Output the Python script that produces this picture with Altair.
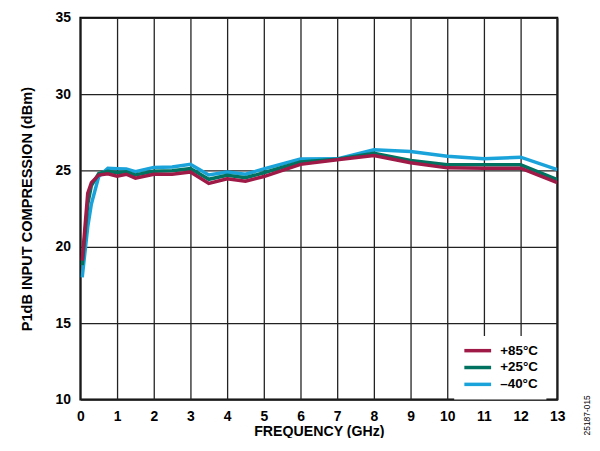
import altair as alt
import pandas as pd

freq = [0.05, 0.2, 0.3, 0.5, 0.75, 1.0, 1.25, 1.5, 2.0, 2.5, 3.0, 3.5, 4.0, 4.5, 5.0,
        6, 7, 8, 9, 10, 11, 12, 13]
p85 = [19.1, 23.5, 24.2, 24.7, 24.78, 24.62, 24.75, 24.5, 24.75, 24.75, 24.9, 24.15, 24.46, 24.3, 24.6,
       25.4, 25.7, 25.98, 25.5, 25.17, 25.15, 25.15, 24.2]
p25 = [18.8, 22.8, 24.0, 24.8, 24.95, 24.85, 24.92, 24.7, 24.95, 24.98, 25.12, 24.42, 24.68, 24.52, 24.85,
       25.55, 25.74, 26.13, 25.65, 25.37, 25.37, 25.37, 24.4]
m40 = [18.0, 21.3, 22.8, 24.6, 25.15, 25.12, 25.1, 24.92, 25.2, 25.22, 25.4, 24.7, 24.9, 24.75, 25.1,
       25.75, 25.76, 26.35, 26.24, 25.93, 25.76, 25.87, 25.05]

series = ["+85°C", "+25°C", "–40°C"]
colors = ["#A01A47", "#00725F", "#1AA3DA"]
x_ticks = list(range(0, 14))
y_ticks = [10, 15, 20, 25, 30, 35]

rows = []
for name, vals in [(series[2], m40), (series[1], p25), (series[0], p85)]:
    for f, v in zip(freq, vals):
        rows.append({"f": f, "v": v, "s": name})
df = pd.DataFrame(rows)

FONT = "Liberation Sans"

lines = alt.Chart(df).mark_line(strokeWidth=3.5, clip=True).encode(
    x=alt.X("f:Q",
            scale=alt.Scale(domain=[0, 13], nice=False, zero=False),
            axis=alt.Axis(values=x_ticks, title="FREQUENCY (GHz)", ticks=False, labelFlush=False,
                          labelPadding=10, titlePadding=1, titleFontSize=14.3, format="d")),
    y=alt.Y("v:Q",
            scale=alt.Scale(domain=[10, 35], nice=False, zero=False),
            axis=alt.Axis(values=y_ticks, title="P1dB INPUT COMPRESSION (dBm)", ticks=False,
                          labelFlush=False,
                          labelPadding=10, titlePadding=21, titleFontSize=14.7, format="d")),
    color=alt.Color("s:N",
                    scale=alt.Scale(domain=series, range=colors),
                    legend=alt.Legend(orient="none", legendX=377, legendY=321, title=None,
                                      fillColor="white", padding=8,
                                      symbolType="M-3,0H3", symbolStrokeWidth=3.5,
                                      symbolSize=81, symbolOffset=9, labelOffset=16,
                                      labelFont=FONT, labelFontWeight="bold",
                                      labelFontSize=13.5, labelColor="black",
                                      rowPadding=2)),
)

note = alt.Chart(pd.DataFrame({"t": ["25187-015"]})).mark_text(
    angle=270, fontSize=8.5, font=FONT, color="black", align="center", baseline="middle"
).encode(x=alt.value(511), y=alt.value(401), text="t:N")

chart = alt.layer(lines, note).properties(
    width=481, height=385,
    padding={"left": 73, "top": 8, "right": 35, "bottom": 37},
    autosize=alt.AutoSizeParams(type="none"),
).configure_view(
    stroke="black", strokeWidth=2
).configure_axis(
    domain=False, grid=True, gridColor="#222222", gridWidth=1.3, gridOpacity=1,
    labelFont=FONT, labelFontWeight="bold", labelFontSize=14, labelColor="black",
    titleFont=FONT, titleFontWeight="bold", titleColor="black",
)

chart.save("out.html", embed_options={"renderer": "svg", "actions": False})
